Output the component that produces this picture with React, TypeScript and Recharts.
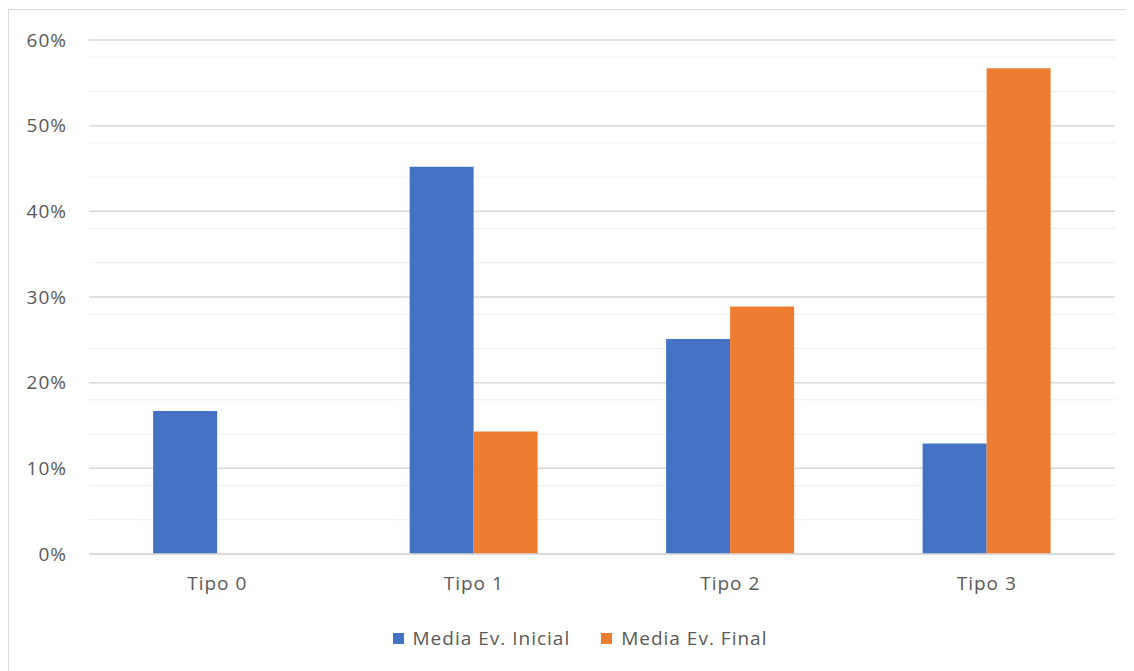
import React from 'react';
import { BarChart, Bar, XAxis, YAxis, CartesianGrid } from 'recharts';

const categories = ['Tipo 0', 'Tipo 1', 'Tipo 2', 'Tipo 3'];
const mediaInicial = [16.7, 45.2, 25.1, 12.9];
const mediaFinal = [0, 14.3, 28.9, 56.7];
const majorTicks = [0, 10, 20, 30, 40, 50, 60];
const minorTicks = [2, 4, 6, 8, 12, 14, 16, 18, 22, 24, 26, 28, 32, 34, 36, 38, 42, 44, 46, 48, 52, 54, 56, 58];

const series = [
  { key: 'inicial', name: 'Media Ev. Inicial', color: '#4472C4' },
  { key: 'final', name: 'Media Ev. Final', color: '#ED7D31' },
];

const data = categories.map((name, i) => ({
  name,
  inicial: mediaInicial[i],
  final: mediaFinal[i],
}));

const textColor = '#595959';
const font = '"Open Sans", sans-serif';
const tickStyle = { fill: textColor, fontSize: 19, fontFamily: font, letterSpacing: 1 };

const App = () => {
  return (
    <div style={{ position: 'relative', width: 1118, height: 662, border: '1px solid #d9d9d9', marginTop: 1, background: '#fff' }}>
      <BarChart
        width={1118}
        height={662}
        data={data}
        margin={{ top: 30, right: 12, bottom: 88, left: 0 }}
        barCategoryGap="25%"
        barGap={0}
      >
        <CartesianGrid vertical={false} horizontalValues={minorTicks} stroke="#eeeeee" strokeWidth={1} />
        <CartesianGrid vertical={false} horizontalValues={majorTicks} stroke="#d9d9d9" strokeWidth={1.5} />
        <XAxis
          dataKey="name"
          tickLine={false}
          axisLine={{ stroke: '#d9d9d9', strokeWidth: 1.5 }}
          tickMargin={17}
          tick={tickStyle}
        />
        <YAxis
          width={80}
          domain={[0, 60]}
          ticks={majorTicks}
          tickFormatter={(v: number) => `${v}%`}
          tickLine={false}
          axisLine={false}
          tickMargin={16}
          tick={tickStyle}
        />
        {series.map((s) => (
          <Bar key={s.key} dataKey={s.key} name={s.name} fill={s.color} isAnimationActive={false} />
        ))}
      </BarChart>
      {/* legend drawn by hand so it keeps series order and does not shrink the plot */}
      <div
        style={{
          position: 'absolute',
          top: 616,
          left: 0,
          width: 1118,
          paddingLeft: 24,
          boxSizing: 'border-box',
          display: 'flex',
          justifyContent: 'center',
          gap: 31,
          fontFamily: font,
          fontSize: 19,
          letterSpacing: 1,
          color: textColor,
          lineHeight: '24px',
        }}
      >
        {series.map((s) => (
          <div key={s.key} style={{ display: 'flex', alignItems: 'center' }}>
            <span style={{ width: 11, height: 11, background: s.color, display: 'inline-block', marginRight: 9 }} />
            <span>{s.name}</span>
          </div>
        ))}
      </div>
    </div>
  );
};

export default App;
